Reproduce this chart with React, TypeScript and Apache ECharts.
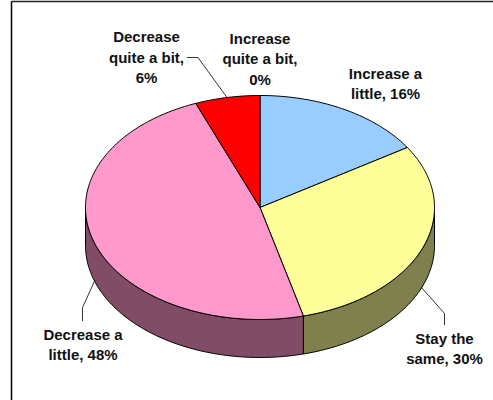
import React, { useEffect, useRef } from "react";
import * as echarts from "echarts";

const categories = ["Increase quite a bit", "Increase a little", "Stay the same", "Decrease a little", "Decrease quite a bit"];
const values = [0, 16, 30, 48, 6];
const topColors = ["#3366CC", "#99CCFF", "#FFFF99", "#FF99CC", "#FF0000"];
const sideColors = ["#1A3366", "#4C6680", "#80804F", "#804C66", "#800000"];
const labelTexts = [
  "Increase\nquite a bit,\n0%",
  "Increase a\nlittle, 16%",
  "Stay the\nsame, 30%",
  "Decrease a\nlittle, 48%",
  "Decrease\nquite a bit,\n6%",
];

const W = 493, H = 400;
const CX = 260, CY = 207.5, RX = 174.5, RY = 112, DEPTH = 38;
const total = values.reduce((a, b) => a + b, 0);
const pt = (deg: number, dy = 0): number[] => {
  const t = (deg * Math.PI) / 180;
  return [CX + RX * Math.sin(t), CY - RY * Math.cos(t) + dy];
};
const arc = (a: number, b: number, dy = 0): number[][] => {
  const out: number[][] = [];
  const n = Math.max(1, Math.ceil(Math.abs(b - a)));
  for (let i = 0; i <= n; i++) out.push(pt(a + ((b - a) * i) / n, dy));
  return out;
};
const startOf = (i: number) => (values.slice(0, i).reduce((a, b) => a + b, 0) / total) * 360;

const renderSide = (_: any, api: any) => {
  const i = api.value(0);
  const a0 = startOf(i);
  const a1 = a0 + (api.value(1) / total) * 360;
  const a = Math.max(a0, 90), b = Math.min(a1, 270);
  if (b <= a) return { type: "group", children: [] };
  return {
    type: "polygon",
    shape: { points: [...arc(a, b, 0), ...arc(b, a, DEPTH)] },
    style: { fill: sideColors[i], stroke: "#000", lineWidth: 1 },
  };
};
const renderTop = (_: any, api: any) => {
  const i = api.value(0);
  const a0 = startOf(i);
  const a1 = a0 + (api.value(1) / total) * 360;
  if (a1 <= a0) return { type: "group", children: [] };
  return {
    type: "polygon",
    shape: { points: [[CX, CY], ...arc(a0, a1)] },
    style: { fill: topColors[i], stroke: "#000", lineWidth: 1 },
  };
};

const labelPositions = [
  [260, 40], [385.5, 75], [444.5, 340], [83, 336], [146.5, 38.5],
];
const leaderLines = [
  [[187, 57.5], [198, 57.5], [227, 97.5]],
  [[82.5, 321], [82.5, 307.5], [95, 280]],
  [[444.5, 325], [444.5, 313.5], [421.5, 287.5]],
];

const tableData = values.map((v, i) => ({ name: categories[i], value: [i, v] }));

export default function App() {
  const ref = useRef<HTMLDivElement>(null);
  useEffect(() => {
    const chart = echarts.init(ref.current!, undefined, { renderer: "svg" });
    chart.setOption({
      animation: false,
      backgroundColor: "#fff",
      series: [
        { type: "custom", coordinateSystem: "none", renderItem: renderSide, data: tableData, z: 1, silent: true },
        { type: "custom", coordinateSystem: "none", renderItem: renderTop, data: tableData, z: 2, silent: true },
      ],
      graphic: [
        { type: "line", z: 3, shape: { x1: 11.5, y1: 1.5, x2: W, y2: 1.5 }, style: { stroke: "#222", lineWidth: 1.5 } },
        { type: "line", z: 3, shape: { x1: 11.5, y1: 1.5, x2: 11.5, y2: H }, style: { stroke: "#000", lineWidth: 1.5 } },
        ...leaderLines.map((points) => ({
          type: "polyline", z: 3, shape: { points }, style: { fill: "none", stroke: "#000", lineWidth: 0.8 },
        })),
        ...labelTexts.map((text, i) => ({
          type: "text", z: 4, x: labelPositions[i][0], y: labelPositions[i][1] - 12,
          style: {
            text, fill: "#111", align: "center", verticalAlign: "top", lineHeight: 20.5,
            font: 'bold 15px "Liberation Sans", Arial, sans-serif',
          },
        })),
      ],
    });
    return () => chart.dispose();
  }, []);
  return <div ref={ref} style={{ position: "fixed", left: 0, top: 0, width: W, height: H }} />;
}
